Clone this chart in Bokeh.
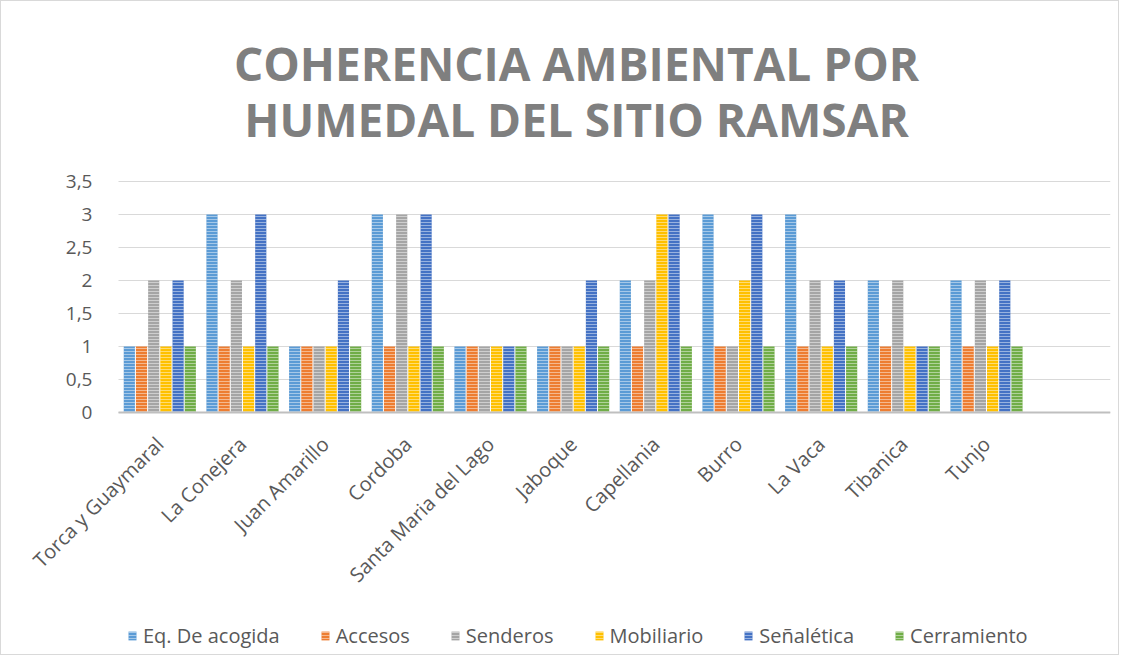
import math
from bokeh.plotting import figure
from bokeh.models import (Range1d, Label, Legend, LegendItem, FixedTicker,
                          ColumnDataSource)
from bokeh.transform import dodge
from bokeh.embed import file_html
from bokeh.resources import INLINE

categories = ["Torca y Guaymaral", "La Conejera", "Juan Amarillo", "Cordoba",
              "Santa Maria del Lago", "Jaboque", "Capellania", "Burro",
              "La Vaca", "Tibanica", "Tunjo"]
eq_acogida  = [1, 3, 1, 3, 1, 1, 2, 3, 3, 2, 2]
accesos     = [1, 1, 1, 1, 1, 1, 1, 1, 1, 1, 1]
senderos    = [2, 2, 1, 3, 1, 1, 2, 1, 2, 2, 2]
mobiliario  = [1, 1, 1, 1, 1, 1, 3, 2, 1, 1, 1]
senaletica  = [2, 3, 2, 3, 1, 2, 3, 3, 2, 1, 2]
cerramiento = [1, 1, 1, 1, 1, 1, 1, 1, 1, 1, 1]

series_names = ["Eq. De acogida", "Accesos", "Senderos", "Mobiliario",
                "Señalética", "Cerramiento"]
series_keys = ["eq", "acc", "sen", "mob", "sen2", "cer"]
colors = ["#5B9BD5", "#ED7D31", "#A5A5A5", "#FFC000", "#4472C4", "#70AD47"]

y_ticks = [0, 0.5, 1, 1.5, 2, 2.5, 3, 3.5]
y_tick_labels = ["0", "0,5", "1", "1,5", "2", "2,5", "3", "3,5"]

title_line1 = "COHERENCIA AMBIENTAL POR"
title_line2 = "HUMEDAL DEL SITIO RAMSAR"

n_slots = len(categories) + 1          # Excel leaves one empty slot at the end
x_pos = [i + 0.5 for i in range(len(categories))]   # category centres

source = ColumnDataSource(data=dict(x=x_pos, cat=categories, eq=eq_acogida,
                                    acc=accesos, sen=senderos, mob=mobiliario,
                                    sen2=senaletica, cer=cerramiento))

# the frame covers the whole chart; the category band starts 117px in and the
# value band 0..3.5 sits where the reference draws its plot area
p = figure(width=1119, height=655,
           x_range=Range1d(-1.415, n_slots), y_range=Range1d(-3.697, 6.227),
           output_backend="svg", toolbar_location=None,
           min_border_left=0, min_border_right=10,
           min_border_top=0, min_border_bottom=0)
p.title = None
p.outline_line_color = None
p.background_fill_color = "white"
p.border_fill_color = "white"
p.styles = {"border": "1px solid #d9d9d9"}

TXT = "#595959"
FONT = "Open Sans"

slot = 0.1475
renderers = []
for i, (k, c) in enumerate(zip(series_keys, colors)):
    r = p.vbar(x=dodge("x", (i - 2.5) * slot), top=k,
               width=0.135, source=source, fill_color=c, line_color=None,
               hatch_pattern="-", hatch_scale=3, hatch_color="white",
               hatch_alpha=0.45, hatch_weight=1)
    renderers.append(r)

# category axis drawn at value 0
xa = p.xaxis[0]
xa.fixed_location = 0
xa.bounds = (0, n_slots)
xa.ticker = FixedTicker(ticks=x_pos)
xa.major_label_overrides = {xp: c for xp, c in zip(x_pos, categories)}
xa.axis_line_color = "#bfbfbf"
xa.axis_line_width = 2
xa.major_tick_line_color = None
xa.minor_tick_line_color = None
xa.major_label_orientation = math.pi / 4
xa.major_label_standoff = 22
xa.major_label_text_font = FONT
xa.major_label_text_font_size = "20px"
xa.major_label_text_color = TXT
p.xgrid.grid_line_color = None

# value axis drawn at the left edge of the category band
ya = p.yaxis[0]
ya.fixed_location = 0
ya.ticker = FixedTicker(ticks=y_ticks)
ya.major_label_overrides = {t: l for t, l in zip(y_ticks, y_tick_labels)}
ya.axis_line_color = None
ya.major_tick_line_color = None
ya.minor_tick_line_color = None
ya.major_label_standoff = 20
ya.major_label_text_font = FONT
ya.major_label_text_font_size = "19px"
ya.major_label_text_color = TXT
p.ygrid.grid_line_color = "#d9d9d9"
p.ygrid.grid_line_width = 1
try:
    p.ygrid.cross_bounds = (0, n_slots)
except Exception:
    pass

for txt, ys in ((title_line1, 594), (title_line2, 538)):
    p.add_layout(Label(x=575, y=ys, x_units="screen", y_units="screen",
                       text=txt, text_align="center", text_baseline="middle",
                       text_font=FONT, text_font_size="46px",
                       text_font_style="bold", text_color="#7f7f7f"))

legend = Legend(items=[LegendItem(label=n, renderers=[r])
                       for n, r in zip(series_names, renderers)],
                orientation="horizontal", location=(126, 7),
                glyph_width=10, glyph_height=11, label_standoff=6, spacing=40,
                padding=4, margin=0, border_line_color=None,
                background_fill_alpha=0, label_text_font=FONT,
                label_text_font_size="20px", label_text_color=TXT)
p.add_layout(legend, "center")

open("out.html", "w").write(file_html(p, INLINE))
